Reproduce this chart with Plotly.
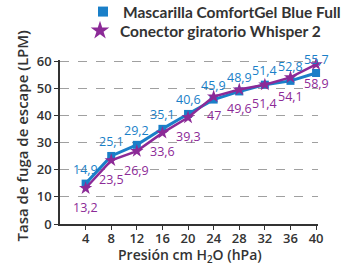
import plotly.graph_objects as go

presion = [4, 8, 12, 16, 20, 24, 28, 32, 36, 40]
comfortgel = [14.9, 25.1, 29.2, 35.1, 40.6, 45.9, 48.9, 51.4, 52.8, 55.7]
whisper = [13.2, 23.5, 26.9, 33.6, 39.3, 47, 49.6, 51.4, 54.1, 58.9]
name_blue = "Mascarilla ComfortGel Blue Full"
name_purple = "Conector giratorio Whisper 2"
x_title = "Presión cm H<sub>2</sub>O (hPa)"
y_title = "Tasa de fuga de escape (LPM)"
blue = "#1a7fc8"
purple = "#8c2a97"
dark = "#333333"
font_fam = "Open Sans, DejaVu Sans, sans-serif"
leg_fam = "Lato, Open Sans, sans-serif"

W, H = 349, 266
ML, MR, MT, MB = 60, 31, 60, 42
PW, PH = W - ML - MR, H - MT - MB

def fmt(v):
    return ("%g" % v).replace(".", ",")

fig = go.Figure()
fig.add_trace(go.Scatter(
    x=presion, y=comfortgel, mode="lines+markers",
    line=dict(color=blue, width=3),
    marker=dict(symbol="square", size=8, color=blue),
    showlegend=False, cliponaxis=False))
fig.add_trace(go.Scatter(
    x=presion, y=whisper, mode="lines+markers",
    line=dict(color=purple, width=2.5),
    marker=dict(symbol="star", size=10, color=purple),
    showlegend=False, cliponaxis=False))
fig.add_trace(go.Scatter(x=[None], y=[None], mode="markers", name=name_blue,
                         legend="legend",
                         marker=dict(symbol="square", size=10, color=blue)))
fig.add_trace(go.Scatter(x=[None], y=[None], mode="markers", name=name_purple,
                         legend="legend2",
                         marker=dict(symbol="star", size=14, color=purple)))

for xv, yv in zip(presion, comfortgel):
    fig.add_annotation(x=xv, y=yv, text=fmt(yv), showarrow=False, yshift=14,
                       font=dict(color=blue, size=12.5, family=font_fam))
for xv, yv in zip(presion, whisper):
    fig.add_annotation(x=xv, y=yv, text=fmt(yv), showarrow=False, yshift=-19,
                       font=dict(color=purple, size=12.5, family=font_fam))

fig.add_annotation(xref="paper", yref="paper", x=(21 - ML) / PW, y=(MT + PH - 135.5) / PH,
                   text=y_title, textangle=-90, showarrow=False,
                   xanchor="center", yanchor="middle",
                   font=dict(size=15, color=dark, weight=600, family=font_fam))
fig.add_annotation(xref="paper", yref="paper", x=(190 - ML) / PW, y=-(255 - MT - PH) / PH,
                   text=x_title, showarrow=False,
                   xanchor="center", yanchor="middle",
                   font=dict(size=14, color=dark, weight=600, family=font_fam))

leg_common = dict(xref="container", yref="container", xanchor="left", yanchor="middle",
                  font=dict(size=15.5, color=dark, weight=700, family=leg_fam),
                  bgcolor="rgba(0,0,0,0)", itemwidth=30, borderwidth=0)

fig.update_layout(
    width=W, height=H,
    margin=dict(l=ML, r=MR, t=MT, b=MB, autoexpand=False),
    paper_bgcolor="white", plot_bgcolor="white",
    font=dict(family=font_fam, color=dark),
    legend=dict(x=83 / W, y=1 - 12 / H, **leg_common),
    legend2=dict(x=80 / W, y=1 - 31 / H, **leg_common),
    xaxis=dict(range=[0, 40.3], tickvals=presion, ticks="outside", ticklen=4,
               tickcolor=dark, showline=True, linecolor=dark, linewidth=1.5,
               showgrid=False, zeroline=False, automargin=False,
               ticklabelstandoff=-2,
               tickfont=dict(size=13, color=dark, weight=600)),
    yaxis=dict(range=[0, 60.5], tickvals=[0, 10, 20, 30, 40, 50, 60], ticks="outside",
               ticklen=4, tickcolor=dark, showline=True, linecolor=dark, linewidth=1.5,
               showgrid=True, gridcolor="#a0a0a0", griddash="dash", gridwidth=1,
               zeroline=False, automargin=False,
               tickfont=dict(size=13, color=dark, weight=600)),
)
fig.write_html("out.html", config={"displayModeBar": False},
               post_script="document.body.style.margin='0';")
